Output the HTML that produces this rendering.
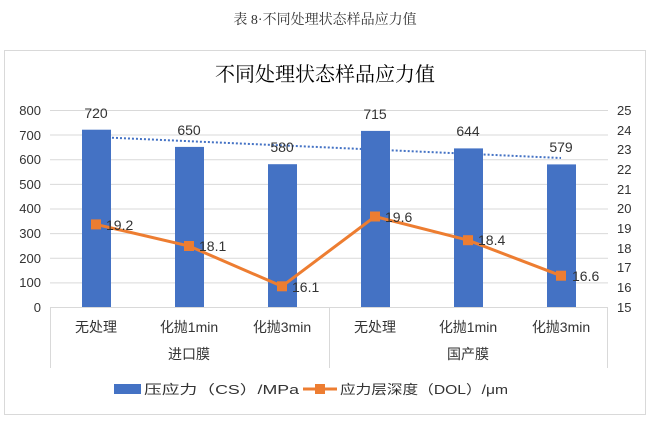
<!DOCTYPE html>
<html><head><meta charset="utf-8"><style>
html,body{margin:0;padding:0;background:#fff;}
svg text{font-family:"Liberation Sans","Noto Sans CJK SC",sans-serif;}
</style></head><body>
<svg width="650" height="417" xmlns="http://www.w3.org/2000/svg">
<text x="325" y="24" text-anchor="middle" font-size="14" fill="#333" style='font-family:"Liberation Serif","Noto Serif CJK SC",serif'>表 8·不同处理状态样品应力值</text>
<rect x="4.5" y="50.5" width="641" height="364" fill="#fff" stroke="#d9d9d9"/>
<text x="325" y="81" text-anchor="middle" font-size="20" fill="#000" style='font-family:"Liberation Serif","Noto Serif CJK SC",serif'>不同处理状态样品应力值</text>
<g stroke="#d9d9d9" stroke-width="1">
<line x1="50" x2="608" y1="110.5" y2="110.5"/><line x1="50" x2="608" y1="135" y2="135"/>
<line x1="50" x2="608" y1="159.7" y2="159.7"/><line x1="50" x2="608" y1="184.4" y2="184.4"/>
<line x1="50" x2="608" y1="209" y2="209"/><line x1="50" x2="608" y1="233.6" y2="233.6"/>
<line x1="50" x2="608" y1="258.2" y2="258.2"/><line x1="50" x2="608" y1="282.9" y2="282.9"/>
<line x1="50" x2="608" y1="307.5" y2="307.5"/>
<line x1="50.5" x2="50.5" y1="307" y2="368"/><line x1="329.5" x2="329.5" y1="307" y2="368"/><line x1="607.5" x2="607.5" y1="307" y2="368"/>
</g>
<g font-size="13" fill="#333" text-anchor="end">
<text x="41" y="115">800</text><text x="41" y="140">700</text><text x="41" y="164">600</text><text x="41" y="189">500</text><text x="41" y="213">400</text><text x="41" y="238">300</text><text x="41" y="263">200</text><text x="41" y="287">100</text><text x="41" y="312">0</text>
</g>
<g font-size="13" fill="#333" text-anchor="start">
<text x="617" y="115">25</text><text x="617" y="135">24</text><text x="617" y="154">23</text><text x="617" y="174">22</text><text x="617" y="194">21</text><text x="617" y="213">20</text><text x="617" y="233">19</text><text x="617" y="253">18</text><text x="617" y="272">17</text><text x="617" y="292">16</text><text x="617" y="312">15</text>
</g>
<g fill="#4472c4">
<rect x="82" y="129.7" width="29" height="177.3"/>
<rect x="175" y="146.9" width="29" height="160.1"/>
<rect x="268" y="164.2" width="29" height="142.8"/>
<rect x="361" y="130.9" width="29" height="176.1"/>
<rect x="454" y="148.4" width="29" height="158.6"/>
<rect x="547" y="164.4" width="29" height="142.6"/>
</g>
<line x1="96" y1="137" x2="561" y2="158" stroke="#4472c4" stroke-width="2" stroke-dasharray="2,2"/>
<g font-size="14" fill="#333" text-anchor="middle">
<text x="96" y="118">720</text><text x="189" y="135">650</text><text x="282" y="152">580</text>
<text x="375" y="119">715</text><text x="468" y="136">644</text><text x="561" y="152">579</text>
</g>
<polyline points="96,224.4 189,246 282,286.3 375,216.5 468,240.2 561,275.7" fill="none" stroke="#ed7d31" stroke-width="3"/>
<g fill="#ed7d31">
<rect x="91" y="219.4" width="10" height="10"/><rect x="184" y="241" width="10" height="10"/><rect x="277" y="281.3" width="10" height="10"/>
<rect x="370" y="211.5" width="10" height="10"/><rect x="463" y="235.2" width="10" height="10"/><rect x="556" y="270.7" width="10" height="10"/>
</g>
<g font-size="14" fill="#333">
<text x="106" y="230">19.2</text><text x="199" y="251">18.1</text><text x="292" y="292">16.1</text>
<text x="385" y="222">19.6</text><text x="478" y="245">18.4</text><text x="572" y="281">16.6</text>
</g>
<g font-size="14" fill="#333" text-anchor="middle">
<text x="96" y="332">无处理</text><text x="189" y="332">化抛1min</text><text x="282" y="332">化抛3min</text>
<text x="375" y="332">无处理</text><text x="468" y="332">化抛1min</text><text x="561" y="332">化抛3min</text>
<text x="189" y="359">进口膜</text><text x="468" y="359">国产膜</text>
</g>
<rect x="114" y="384" width="27" height="10" fill="#4472c4"/>
<text x="144" y="394" font-size="13" fill="#333" textLength="155" lengthAdjust="spacingAndGlyphs">压应力（CS）/MPa</text>
<line x1="303" y1="389" x2="337" y2="389" stroke="#ed7d31" stroke-width="3"/>
<rect x="315" y="384" width="10" height="10" fill="#ed7d31"/>
<text x="340" y="394" font-size="13" fill="#333" textLength="168" lengthAdjust="spacingAndGlyphs">应力层深度（DOL）/μm</text>
</svg>
</body></html>
